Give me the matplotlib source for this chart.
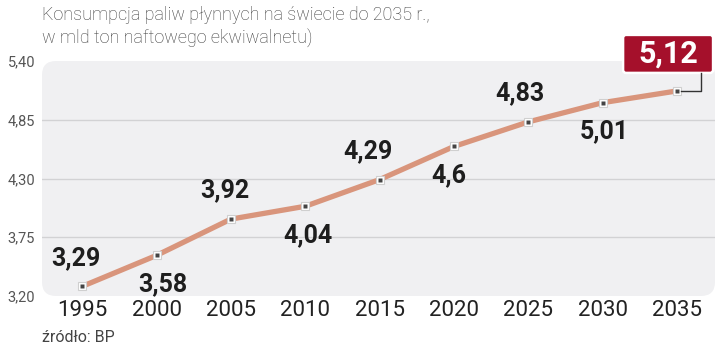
import matplotlib
matplotlib.use("Agg")
import matplotlib.pyplot as plt
from matplotlib.patches import FancyBboxPatch
from matplotlib.transforms import IdentityTransform

years = [1995, 2000, 2005, 2010, 2015, 2020, 2025, 2030, 2035]
values = [3.29, 3.58, 3.92, 4.04, 4.29, 4.60, 4.83, 5.01, 5.12]
value_labels = ["3,29", "3,58", "3,92", "4,04", "4,29", "4,6", "4,83", "5,01", "5,12"]
yticks = [3.20, 3.75, 4.30, 4.85, 5.40]
ytick_labels = ["3,20", "3,75", "4,30", "4,85", "5,40"]
title_lines = ["Konsumpcja paliw płynnych na świecie do 2035 r.,",
               "w mld ton naftowego ekwiwalnetu)"]
source = "źródło: BP"

# label placement (style): +1 above, -1 below, horizontal shift in px
label_side = [1, -1, 1, -1, 1, -1, 1, -1]
label_dx = [-6, 6, -6, 3, -12, -5, -8, 2]

W, H = 721, 349
fig = plt.figure(figsize=(W / 100, H / 100), dpi=100)
ax = fig.add_axes([42 / W, 1 - 296 / H, (715 - 42) / W, (296 - 61) / H])
ax.set_xlim(1992.3, 2037.55)
ax.set_ylim(3.20, 5.40)
ax.set_facecolor("none")
for s in ax.spines.values():
    s.set_visible(False)

bg = FancyBboxPatch((42, H - 296), 673, 235, boxstyle="round,pad=0,rounding_size=14",
                    transform=IdentityTransform(), facecolor="#f0f0f2", edgecolor="none",
                    zorder=0, clip_on=False)
ax.add_patch(bg)
for yv in yticks[1:-1]:
    ax.axhline(yv, color="#d2d2d4", lw=1.0, zorder=1)

ax.set_yticks(yticks)
ax.set_yticklabels(ytick_labels, fontsize=10.5, color="#555555", family=["Roboto", "DejaVu Sans"])
ax.set_xticks(years)
ax.set_xticklabels([str(y) for y in years], fontsize=16, color="#222222",
                   family=["Roboto", "DejaVu Sans"])
ax.tick_params(axis="both", length=0)
ax.tick_params(axis="y", pad=5)
ax.tick_params(axis="x", pad=3)

ax.plot(years, values, color="#d9957c", lw=3.8, solid_capstyle="round", zorder=3)
ax.plot(years, values, ls="none", marker="s", ms=6, mfc="white", mec="#cfcfcf",
        mew=0.8, zorder=4)
ax.plot(years, values, ls="none", marker="s", ms=2.6, mfc="#444444", mec="none", zorder=5)

label_font = ["Roboto", "DejaVu Sans"]
for i in range(len(years) - 1):
    ax.annotate(value_labels[i], (years[i], values[i]),
                xytext=(label_dx[i] * 0.72, label_side[i] * 20.5),
                textcoords="offset points", ha="center", va="center",
                fontsize=18, fontweight="bold", color="#1e1e1e",
                family=label_font, zorder=6)

# highlighted last value: box placed relative to the last point (pixel offsets)
px, py = ax.transData.transform((years[-1], values[-1]))
box = FancyBboxPatch((px - 54, py + 18), 90, 38, boxstyle="round,pad=0,rounding_size=3",
                     transform=IdentityTransform(), facecolor="#a5102b", edgecolor="white",
                     lw=1.8, zorder=7, clip_on=False)
ax.add_patch(box)
fig.text((px - 9) / W, (py + 37) / H, value_labels[-1], ha="center", va="center",
         fontsize=22, fontweight="bold", color="white",
         family=label_font, zorder=8)
fig.add_artist(plt.Line2D([(px + 24) / W, (px + 24) / W, (px + 4) / W],
                          [(py + 18) / H, py / H, py / H],
                          color="#333333", lw=1.0, zorder=6))

fig.text(42 / W, 1 - 15 / H, title_lines[0], fontsize=13, color="#3c3c3c",
         family=["Roboto", "DejaVu Sans"], fontweight="light", va="center", ha="left")
fig.text(42 / W, 1 - 38 / H, title_lines[1], fontsize=13, color="#3c3c3c",
         family=["Roboto", "DejaVu Sans"], fontweight="light", va="center", ha="left")
fig.text(42 / W, 1 - 338 / H, source, fontsize=11.5, color="#444444",
         family=["Roboto", "DejaVu Sans"], va="center", ha="left")

fig.savefig("out.png", dpi=100, facecolor="white")
